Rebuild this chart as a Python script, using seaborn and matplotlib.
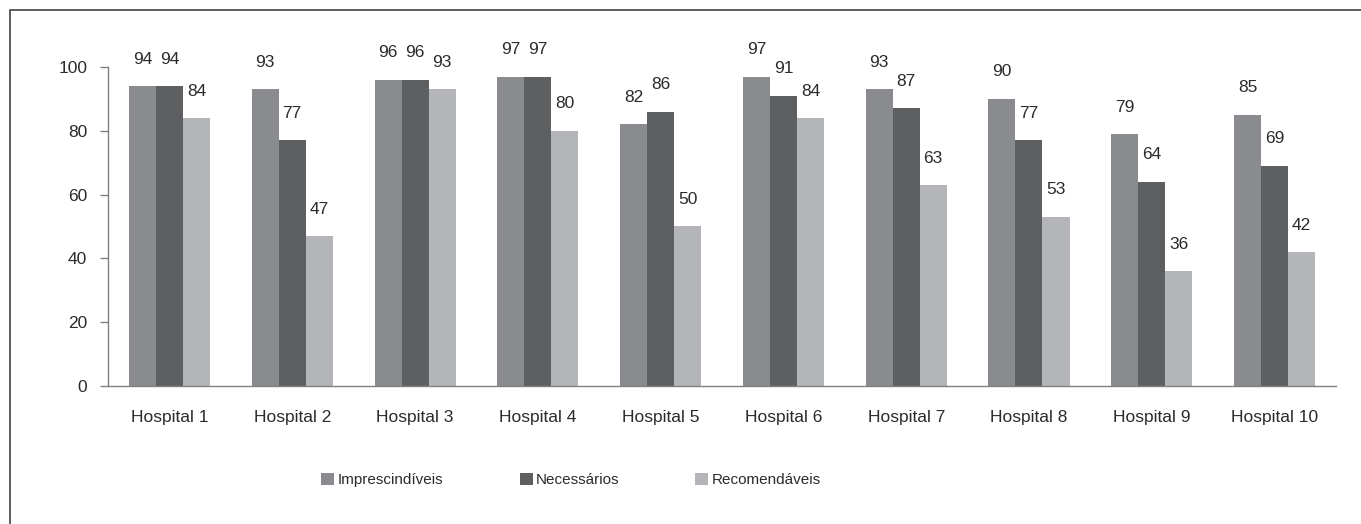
import pandas as pd
import seaborn as sns
import matplotlib.pyplot as plt
from matplotlib.patches import Rectangle

hospitals = ['Hospital %d' % i for i in range(1, 11)]
series = ['Imprescindíveis', 'Necessários', 'Recomendáveis']
imprescindiveis = [94, 93, 96, 97, 82, 97, 93, 90, 79, 85]
necessarios = [94, 77, 96, 97, 86, 91, 87, 77, 64, 69]
recomendaveis = [84, 47, 93, 80, 50, 84, 63, 53, 36, 42]
colors = ['#8a8b8e', '#5e5f61', '#b4b5b8']

df = pd.DataFrame({
    'hospital': hospitals * 3,
    'grupo': [s for s in series for _ in hospitals],
    'valor': imprescindiveis + necessarios + recomendaveis,
})

sns.set_style('white')
plt.rcParams['font.family'] = ['Liberation Sans', 'DejaVu Sans']
text_color = '#2b2b2b'
axis_color = '#808080'

fig = plt.figure(figsize=(13.61, 5.24), dpi=100)
ax = fig.add_axes([0.0794, 0.2634, 0.9022, 0.6088])

sns.barplot(data=df, x='hospital', y='valor', hue='grupo', hue_order=series,
            palette=colors, width=0.66, gap=0, saturation=1, ax=ax,
            edgecolor='none', linewidth=0, errorbar=None)

for cont in ax.containers:
    ax.bar_label(cont, fmt='%d', padding=14, fontsize=12.5, color=text_color)

ax.set_ylim(0, 100)
ax.set_xlim(-0.5, 9.5)
ax.set_yticks([0, 20, 40, 60, 80, 100])
ax.set_xlabel('')
ax.set_ylabel('')
ax.set_xticks([i - 0.5 for i in range(11)], minor=True)
ax.tick_params(axis='x', which='major', length=0, pad=17, labelsize=12.5, labelcolor=text_color)
ax.tick_params(axis='x', which='minor', length=9, width=1, color=axis_color, direction='out')
ax.tick_params(axis='y', length=6, width=1, color=axis_color, direction='out', pad=9,
               labelsize=12.5, labelcolor=text_color, left=True)

sns.despine(ax=ax)
for side in ['left', 'bottom']:
    ax.spines[side].set_color(axis_color)
    ax.spines[side].set_linewidth(1)

leg = ax.legend(loc='center', bbox_to_anchor=(0.4196, 0.084), bbox_transform=fig.transFigure,
                ncol=3, frameon=False, fontsize=11, handlelength=0.85, handleheight=0.85,
                handletextpad=0.2, columnspacing=5.0)
for t in leg.get_texts():
    t.set_color(text_color)

# outer frame of the figure
fig.patches.append(Rectangle((0.0073, -0.05), 1.05, 1.031, transform=fig.transFigure,
                             fill=False, edgecolor='#444444', linewidth=1.2))

fig.savefig('out.png', dpi=100)
